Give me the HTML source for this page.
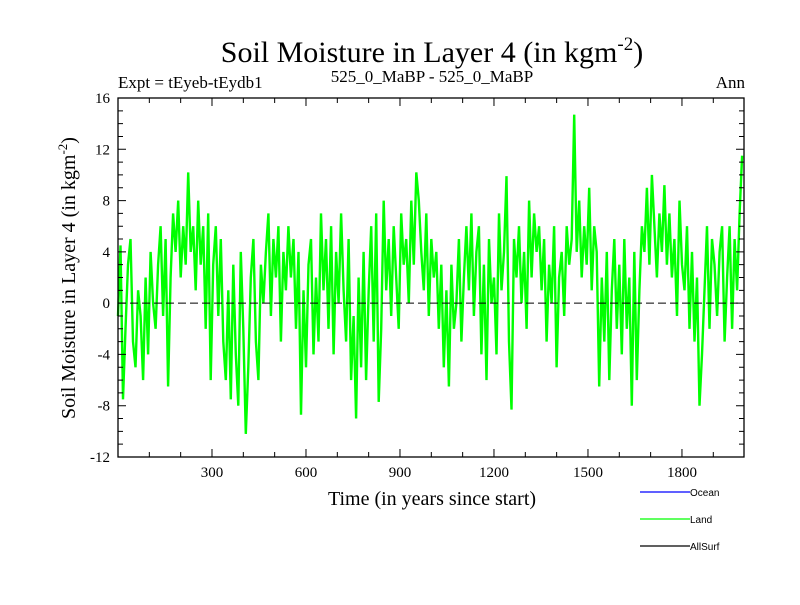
<!DOCTYPE html>
<html><head><meta charset="utf-8"><style>
body{margin:0;background:#fff}
svg text{font-family:"Liberation Serif",serif}
</style></head><body>
<svg id="chart" width="800" height="600" xmlns="http://www.w3.org/2000/svg">
<rect width="800" height="600" fill="#fff"/>
<text x="432" y="62" font-size="30" text-anchor="middle">Soil Moisture in Layer 4 (in kgm<tspan dy="-12" font-size="19">-2</tspan><tspan dy="12">)</tspan></text>
<text x="118" y="88" font-size="17">Expt = tEyeb-tEydb1</text>
<text x="432" y="82" font-size="17" text-anchor="middle">525_0_MaBP - 525_0_MaBP</text>
<text x="745" y="88" font-size="17" text-anchor="end">Ann</text>
<text x="432" y="505" font-size="20" text-anchor="middle">Time (in years since start)</text>
<text transform="translate(75,278) rotate(-90)" font-size="20" text-anchor="middle">Soil Moisture in Layer 4 (in kgm<tspan dy="-8" font-size="13">-2</tspan><tspan dy="8">)</tspan></text>
<g id="plot"></g>
<g>
<line x1="640" y1="492" x2="690" y2="492" stroke="#0000ff" stroke-width="1.3"/>
<text x="690" y="496" font-size="10" style="font-family:'Liberation Sans',sans-serif">Ocean</text>
<line x1="640" y1="519" x2="690" y2="519" stroke="#00ff00" stroke-width="1.3"/>
<text x="690" y="523" font-size="10" style="font-family:'Liberation Sans',sans-serif">Land</text>
<line x1="640" y1="546" x2="690" y2="546" stroke="#000" stroke-width="1.3"/>
<text x="690" y="550" font-size="10" style="font-family:'Liberation Sans',sans-serif">AllSurf</text>
</g>
</svg>
<script>
const yearStep = 8;
const landValues = [
-1,4.5,-7.5,-2,3,5,-3,-5,1,-1,
-6,2,-4,4,0,-2,3,6,-1,5,
-6.5,2,7,4,8,2,6,3,10.2,4,
6,1,8,3,6,-2,7,-6,3,6,
-1,5,-3,-6,1,-7.5,3,-4,-8,4,
-2,-10.2,-5,2,5,-3,-6,3,0,4,
7,-1,5,2,6,-3,4,1,6,2,
5,-2,4,-8.7,1,-5,3,5,-4,2,
-3,7,1,5,-2,6,-4,4,0,7,
1,-3,5,-6,-1,-9,2,-5,4,-6,
1,6,-3,7,-7.7,-2,8,1,5,-1,
6,2,-2,7,3,5,0,8,3,10.2,
8,4,1,7,-1,5,2,4,-2,3,
-5,1,-6.5,3,-2,0,5,-3,2,6,
1,7,-1,4,6,-4,3,-6,5,0,
2,-4,7,1,4,9.9,-3,-8.3,5,2,
6,0,4,-2,8,2,7,4,6,1,
5,-3,3,0,6,-5,2,4,-1,6,
3,5,14.7,4,8,2,6,3,9,1,
6,4,-6.5,2,-3,4,-6,1,5,-2,
3,-4,5,-2,2,-8,4,-6,1,6,
4,9,3,10,6,2,7,4,9.2,3,
7,2,5,-1,8,3,1,6,-2,4,
-3,2,-8,-4,1,6,-2,5,3,-1,
4,6,-3,2,6,-2,5,1,7,11.5];
const xTicks = [300,600,900,1200,1500,1800];
const yTicks = [-12,-8,-4,0,4,8,12,16];
const xDomain = [0,1998], yDomain = [-12,16];
const L=118,R=744,T=98,B=457;
const xs = v => L + (v - xDomain[0]) / (xDomain[1]-xDomain[0]) * (R-L);
const ys = v => B - (v - yDomain[0]) / (yDomain[1]-yDomain[0]) * (B-T);
const NS="http://www.w3.org/2000/svg";
const g=document.getElementById('plot');
function mk(tag,attrs){const e=document.createElementNS(NS,tag);for(const k in attrs)e.setAttribute(k,attrs[k]);g.appendChild(e);return e;}
let d='';
landValues.forEach((v,i)=>{d+=(i?'L':'M')+xs(i*yearStep).toFixed(1)+','+ys(v).toFixed(1);});
const line=mk('path',{d:d,fill:'none',stroke:'#00ff00','stroke-width':2.4,'stroke-linejoin':'miter'});


const z=mk('line',{x1:L,x2:R,y1:ys(0),y2:ys(0),stroke:'#000','stroke-dasharray':'8,4','stroke-width':1});


const fr=mk('rect',{x:L,y:T,width:R-L,height:B-T,fill:'none',stroke:'#000','stroke-width':1.3});


for(let yr=100;yr<xDomain[1];yr+=100){const big=yr%300===0;const len=big?8:5;
 mk('path',{d:`M${xs(yr)},${B}v${-len}M${xs(yr)},${T}v${len}`,stroke:'#000'});}
for(let v=yDomain[0]+1;v<yDomain[1];v++){const big=v%4===0;const len=big?8:5;
 mk('path',{d:`M${L},${ys(v)}h${len}M${R},${ys(v)}h${-len}`,stroke:'#000'});}
xTicks.forEach(t=>{const tx=mk('text',{x:xs(t),y:B+20,'font-size':15,'text-anchor':'middle'});tx.textContent=t;
 
 });
yTicks.forEach(t=>{const tx=mk('text',{x:L-8,y:ys(t)+5,'font-size':15,'text-anchor':'end'});tx.textContent=t;
 
 });
</script>
</body></html>
